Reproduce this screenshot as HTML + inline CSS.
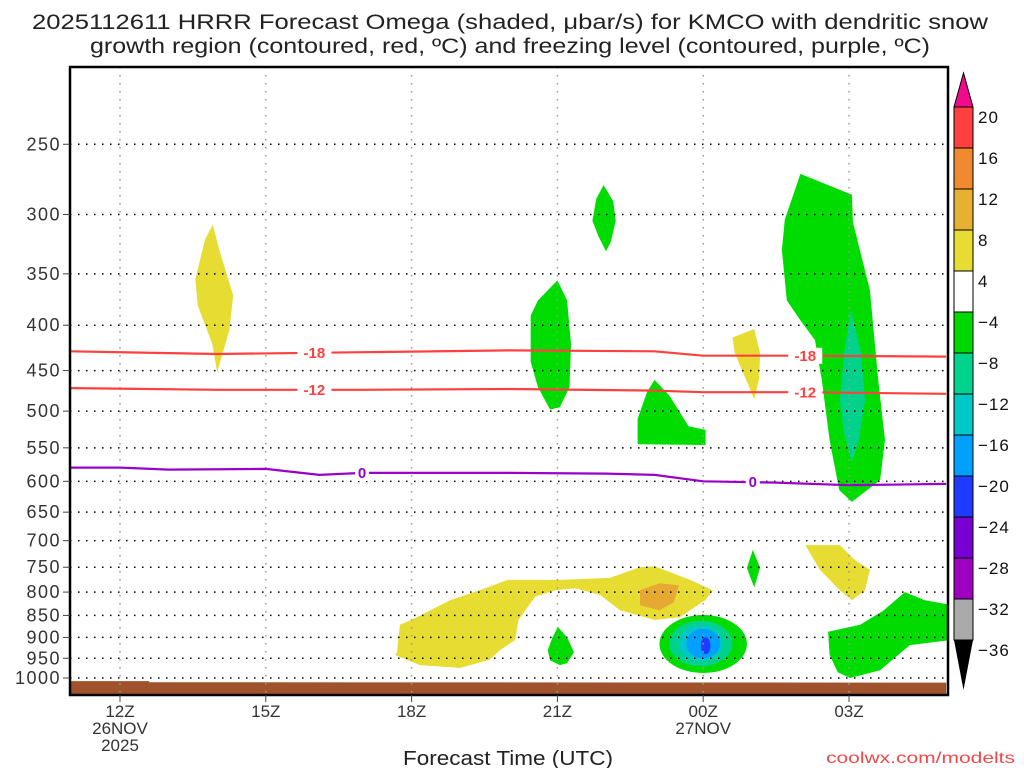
<!DOCTYPE html>
<html><head><meta charset="utf-8">
<style>
html,body{margin:0;padding:0;background:#fff;}
svg{display:block;font-family:"Liberation Sans",sans-serif;}
</style></head>
<body>
<svg id="chart" width="1024" height="768" viewBox="0 0 1024 768" xmlns="http://www.w3.org/2000/svg">
<text x="510" y="29" font-size="21" text-anchor="middle" fill="#222" textLength="956" lengthAdjust="spacingAndGlyphs">2025112611 HRRR Forecast Omega (shaded, μbar/s) for KMCO with dendritic snow</text>
<text x="510" y="53" font-size="21" text-anchor="middle" fill="#222" textLength="840" lengthAdjust="spacingAndGlyphs">growth region (contoured, red, ºC) and freezing level (contoured, purple, ºC)</text>
<g id="plot"></g>
<g id="cbar"></g>
<text x="508" y="765" font-size="20" text-anchor="middle" fill="#222" textLength="210" lengthAdjust="spacingAndGlyphs">Forecast Time (UTC)</text>
<text x="1015" y="763" font-size="16" text-anchor="end" fill="#f04848" textLength="189" lengthAdjust="spacingAndGlyphs">coolwx.com/modelts</text>
</svg>
<script>
// ---- data ----
const xTickHours = [0, 3, 6, 9, 12, 15];
const xTickLabels = ["12Z", "15Z", "18Z", "21Z", "00Z", "03Z"];
const xTickSub1 = ["26NOV", "", "", "", "27NOV", ""];
const xTickSub2 = ["2025", "", "", "", "", ""];
const pressureLevels = [250,300,350,400,450,500,550,600,650,700,750,800,850,900,950,1000];
const cbarValues = [20,16,12,8,4,-4,-8,-12,-16,-20,-24,-28,-32,-36];
const cbarColors = ["#ff4040","#f08a30","#e6b030","#e6dc32","#ffffff","#00d800","#00d48c","#00c8c8","#00a0ff","#1e3cff","#7800d2","#a000c0","#aaaaaa"];
// shaded regions: [hour from 12Z, pressure hPa]
const yellow14Z = [[1.91,308],[2.05,330],[2.33,370],[2.25,405],[2.0,452],[1.9,420],[1.6,380],[1.55,355],[1.75,320]];
const green22Z = [[9.95,278],[10.15,290],[10.2,305],[10.1,322],[10.0,330],[9.85,318],[9.72,305],[9.8,288]];
const green21Z = [[9.0,356],[9.2,375],[9.28,420],[9.25,470],[9.05,495],[8.85,498],[8.6,470],[8.45,440],[8.45,390],[8.6,375]];
const green23Z = [[11.0,461],[11.3,480],[11.7,520],[12.05,525],[12.05,546],[10.65,545],[10.65,510],[10.85,475]];
const yellow01Z = [[12.6,413],[13.05,404],[13.17,430],[13.15,460],[13.05,485],[12.95,470],[12.8,450],[12.65,430]];
const green03Z = [[14.0,270],[15.06,285],[15.08,306],[15.43,365],[15.6,461],[15.74,539],[15.64,598],[15.06,633],[14.8,614],[14.6,539],[14.44,461],[14.3,416],[14.0,395],[13.72,375],[13.62,329],[13.68,304]];
const teal03Z = [[15.04,384],[15.25,430],[15.33,486],[15.2,540],[15.06,571],[14.9,530],[14.81,486],[14.9,430]];
const yellowLow = [[5.7,935],[5.76,871],[6.0,860],[6.79,817],[7.4,796],[7.98,775],[9.05,775],[10.08,771],[10.7,750],[11.0,748],[11.73,775],[12.2,796],[12.04,817],[11.52,854],[11.0,860],[10.29,839],[9.88,806],[9.36,792],[8.95,796],[8.54,810],[8.2,860],[8.13,906],[7.82,930],[7.6,954],[7.0,974],[6.17,967],[5.66,942]];
const orangeLow = [[10.7,796],[11.1,782],[11.5,786],[11.4,821],[11.1,839],[10.7,828]];
const green21ZLow = [[9.01,876],[9.2,900],[9.34,935],[9.2,962],[9.05,967],[8.85,955],[8.8,930],[8.9,900]];
const green01ZLow = [[13.02,717],[13.1,735],[13.17,751],[13.05,790],[12.95,765],[12.9,751]];
const greenRightLow = [[14.57,887],[15.23,871],[15.7,840],[16.15,800],[16.56,817],[17.1,827],[17.1,906],[16.25,918],[15.64,980],[15.02,1000],[14.77,985],[14.6,942]];
const yellow03ZLow = [[14.1,708],[14.81,708],[15.12,736],[15.43,755],[15.33,796],[15.06,817],[14.81,796],[14.4,755]];
// concentric omega minimum near 00Z: left hour, right hour, top p, bottom p
const ringLeft = [11.1, 11.3, 11.5, 11.65, 11.95];
const ringRight = [12.9, 12.6, 12.4, 12.35, 12.15];
const ringTop = [849, 862, 872, 880, 900];
const ringBottom = [987, 970, 958, 950, 940];
const ringColors = ["#00dc00","#00d28c","#00c8c8","#00a0ff","#1e3cff"];
// contour lines
const lineHours = [-1.03, 2, 5, 8, 11, 12, 14, 17];
const tm18 = [428, 431, 429, 427, 428, 433, 433, 434];
const tm12 = [471, 473, 473, 472, 474, 476, 476, 478];
const frzHours = [-1.03, 0, 1, 3, 4.1, 5, 8, 10, 11, 12, 13.5, 15, 17];
const frzP = [579, 579, 582, 581, 590, 587, 587, 588, 590, 600, 602, 606, 604];
const surfHours = [-1.03, 0.6, 0.6, 17];
const surfP = [1008, 1008, 1011, 1012];

// ---- axes ----
const L=70, R=948, T=67, B=695;
const xs = h => 120 + 48.6*h;
const ys = p => 678 + 385*Math.log(p/1000);
const NS="http://www.w3.org/2000/svg";
const plot=document.getElementById('plot'), cbar=document.getElementById('cbar');
function mk(tag, attrs, parent){const e=document.createElementNS(NS,tag);for(const k in attrs)e.setAttribute(k,attrs[k]);parent.appendChild(e);return e;}

const defs=mk('defs',{},plot);
const cp=mk('clipPath',{id:'clip'},defs);
mk('rect',{x:L,y:T,width:R-L,height:B-T},cp);
const g=mk('g',{'clip-path':'url(#clip)'},plot);

function poly(pts, color, name){
  const d=pts.map(q=>xs(q[0]).toFixed(1)+','+ys(q[1]).toFixed(1)).join(' ');
  const e=mk('polygon',{points:d,fill:color},g);
  
  
}
poly(yellow14Z,'#e6dc32','omega-yellow-14z');
poly(green22Z,'#00dc00','omega-green-22z');
poly(green21Z,'#00dc00','omega-green-21z');
poly(green23Z,'#00dc00','omega-green-23z');
poly(yellow01Z,'#e6dc32','omega-yellow-01z');
poly(green03Z,'#00dc00','omega-green-03z');
poly(teal03Z,'#00d28c','omega-teal-03z');
poly(yellowLow,'#e6dc32','omega-yellow-low-level');
poly(orangeLow,'#e6aa32','omega-orange-low-level');
poly(green21ZLow,'#00dc00','omega-green-21z-low');
poly(green01ZLow,'#00dc00','omega-green-01z-low');
poly(greenRightLow,'#00dc00','omega-green-right-low');
poly(yellow03ZLow,'#e6dc32','omega-yellow-03z-low');
for(let i=0;i<ringLeft.length;i++){
  const x1=xs(ringLeft[i]),x2=xs(ringRight[i]),y1=ys(ringTop[i]),y2=ys(ringBottom[i]);
  const e=mk('ellipse',{cx:(x1+x2)/2,cy:(y1+y2)/2,rx:(x2-x1)/2,ry:(y2-y1)/2,fill:ringColors[i]},g);
  
  
}
// surface
{
  let d='M'+xs(surfHours[0])+','+B;
  for(let i=0;i<surfHours.length;i++)d+=' L'+xs(surfHours[i]).toFixed(1)+','+ys(surfP[i]).toFixed(1);
  d+=' L'+xs(surfHours[surfHours.length-1])+','+B+' Z';
  const e=mk('path',{d:d,fill:'#a0522d'},g);
  
  
}
// grid
pressureLevels.forEach(p=>{
  const e=mk('line',{x1:L,x2:R,y1:ys(p),y2:ys(p),stroke:'#000','stroke-width':1.5,'stroke-dasharray':'1.5 6.5'},g);
  
  
});
xTickHours.forEach(h=>{
  const e=mk('line',{x1:xs(h),x2:xs(h),y1:T,y2:B,stroke:'#999','stroke-width':1.5,'stroke-dasharray':'1.5 6.5'},g);
  
  
});
// contours
function cline(hours, ps, color, name, labels, lab){
  const d=hours.map((h,i)=>(i?'L':'M')+xs(h).toFixed(1)+','+ys(ps[i]).toFixed(1)).join(' ');
  const e=mk('path',{d:d,fill:'none',stroke:color,'stroke-width':2.2},g);
  
  
  labels.forEach(h=>{
    let p=ps[0];
    for(let i=0;i<hours.length-1;i++) if(h>=hours[i]&&h<=hours[i+1]) p=ps[i]+(ps[i+1]-ps[i])*(h-hours[i])/(hours[i+1]-hours[i]);
    const w=lab.length*10+4;
    mk('rect',{x:xs(h)-w/2,y:ys(p)-8,width:w,height:16,fill:'#fff'},g);
    const t=mk('text',{x:xs(h),y:ys(p)+5,'font-size':15,'font-weight':'bold',fill:color,'text-anchor':'middle'},g);
    t.textContent=lab;
    
    
  });
}
cline(lineHours,tm18,'#ff4040','contour-minus-18',[4.0,14.1],'-18');
cline(lineHours,tm12,'#ff4040','contour-minus-12',[4.0,14.1],'-12');
cline(frzHours,frzP,'#9a00c8','freezing-level-contour',[4.98,13.02],'0');
// frame
{const e=mk('rect',{x:L,y:T,width:R-L,height:B-T,fill:'none',stroke:'#000','stroke-width':2.5},plot);

}
// y ticks
pressureLevels.forEach(p=>{
  mk('line',{x1:L-7,x2:L,y1:ys(p),y2:ys(p),stroke:'#444','stroke-width':1},plot);
  const t=mk('text',{x:L-9,y:ys(p)+6,'font-size':18,'text-anchor':'end',fill:'#333','letter-spacing':'1.5'},plot);
  t.textContent=p;
  
  
});
// x ticks
xTickHours.forEach((h,i)=>{
  mk('line',{x1:xs(h),x2:xs(h),y1:B,y2:B+7,stroke:'#444','stroke-width':1},plot);
  [xTickLabels[i],xTickSub1[i],xTickSub2[i]].forEach((s,j)=>{
    if(!s)return;
    const t=mk('text',{x:xs(h),y:B+22+j*17,'font-size':17,'text-anchor':'middle',fill:'#333'},plot);
    t.textContent=s;
    
    
  });
});
// colorbar
const cx0=954, cw=19, cTop=107, step=41;
mk('polygon',{points:`${cx0},${cTop} ${cx0+cw},${cTop} ${cx0+cw/2},73`,fill:'#f00a8c',stroke:'#000','stroke-width':1},cbar);
for(let i=0;i<cbarColors.length;i++){
  const e=mk('rect',{x:cx0,y:cTop+i*step,width:cw,height:step,fill:cbarColors[i],stroke:'#000','stroke-width':1},cbar);
  
  
}
const cBot=cTop+cbarColors.length*step;
mk('polygon',{points:`${cx0},${cBot} ${cx0+cw},${cBot} ${cx0+cw/2},690`,fill:'#000'},cbar);
cbarValues.forEach((v,i)=>{
  const t=mk('text',{x:978,y:cTop+i*step+16,'font-size':17,fill:'#111','letter-spacing':'1'},cbar);
  t.textContent=v<0?'\u2212'+(-v):String(v);
  
  
});
</script>
</body></html>
